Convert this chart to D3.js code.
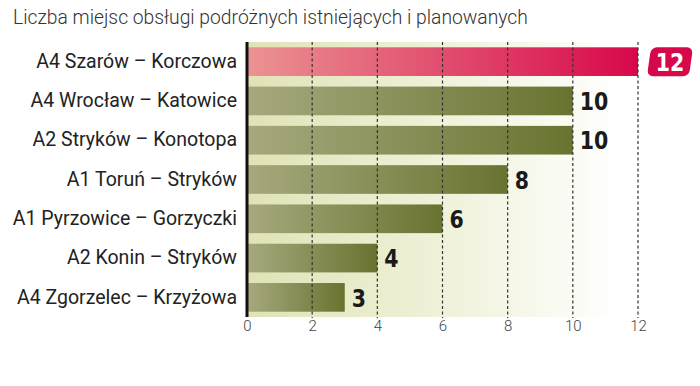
<!DOCTYPE html>
<html>
<head>
<meta charset="utf-8">
<script src="https://cdn.jsdelivr.net/npm/d3@7"></script>
<style>
  body { margin: 0; background: #fff; }
  svg { display: block; }
</style>
</head>
<body>
<div id="plot"></div>
<script>
// data
const routes = ["A4 Szarów – Korczowa", "A4 Wrocław – Katowice", "A2 Stryków – Konotopa",
      "A1 Toruń – Stryków", "A1 Pyrzowice – Gorzyczki", "A2 Konin – Stryków", "A4 Zgorzelec – Krzyżowa"];
const places = [12, 10, 10, 8, 6, 4, 3];
const ticks = [0, 2, 4, 6, 8, 10, 12];
const title = "Liczba miejsc obsługi podróżnych istniejących i planowanych";

const w = 700;
const h = 386;

const svg = d3.select("div#plot")
      .append("svg")
      .attr("width", w)
      .attr("height", h);

const xScale = d3.scaleLinear()
      .domain([0, 12])
      .range([247, 638]);

const yScale = d3.scaleBand()
      .domain(routes)
      .range([42, 317])
      .paddingInner(0.27)
      .paddingOuter(0.135);

const defs = svg.append("defs");

const bg = defs.append("linearGradient").attr("id", "bg");
bg.append("stop").attr("offset", "0%").attr("stop-color", "#e0e3b6");
bg.append("stop").attr("offset", "50%").attr("stop-color", "#eff1d8");
bg.append("stop").attr("offset", "100%").attr("stop-color", "#ffffff");

const green = defs.append("linearGradient").attr("id", "green");
green.append("stop").attr("offset", "0%").attr("stop-color", "#a7a97e");
green.append("stop").attr("offset", "100%").attr("stop-color", "#697330");

const red = defs.append("linearGradient").attr("id", "red");
red.append("stop").attr("offset", "0%").attr("stop-color", "#eb9393");
red.append("stop").attr("offset", "100%").attr("stop-color", "#d8084a");

// title
svg.append("text")
      .attr("x", 13)
      .attr("y", 24)
      .attr("font-family", "Roboto")
      .attr("font-weight", 300)
      .attr("font-size", 19.3)
      .attr("fill", "#333")
      .text(title);

// background band
svg.append("rect")
      .attr("x", xScale(0))
      .attr("y", 42)
      .attr("width", xScale(11.5) - xScale(0))
      .attr("height", 275)
      .attr("fill", "url(#bg)");

// bars
svg.selectAll(".bar")
      .data(places)
      .enter()
      .append("rect")
      .attr("class", "bar")
      .attr("x", xScale(0))
      .attr("y", (d, i) => yScale(routes[i]))
      .attr("width", d => xScale(d) - xScale(0))
      .attr("height", yScale.bandwidth())
      .attr("fill", (d, i) => i === 0 ? "url(#red)" : "url(#green)");

// dashed grid
svg.selectAll(".grid")
      .data(ticks.slice(1))
      .enter()
      .append("line")
      .attr("class", "grid")
      .attr("x1", d => xScale(d))
      .attr("x2", d => xScale(d))
      .attr("y1", 42)
      .attr("y2", 318)
      .attr("stroke", "#333")
      .attr("stroke-width", 1.2)
      .attr("stroke-dasharray", "3,2.5");

// x axis
const xAxis = d3.axisBottom(xScale)
      .tickValues(ticks)
      .tickSize(0)
      .tickPadding(0);

const gx = svg.append("g")
      .attr("transform", "translate(0, 320)")
      .call(xAxis);
gx.select(".domain").remove();
gx.selectAll("text")
      .attr("dy", "0.71em")
      .attr("font-family", "Roboto")
      .attr("font-weight", 300)
      .attr("font-size", 15)
      .attr("fill", "#444");

// y axis
const yAxis = d3.axisLeft(yScale)
      .tickSize(0)
      .tickPadding(10);

const gy = svg.append("g")
      .attr("transform", `translate(${xScale(0)}, 0)`)
      .call(yAxis);
gy.select(".domain")
      .attr("stroke", "#111")
      .attr("stroke-width", 3)
      .attr("d", "M0,42V317");
gy.selectAll("text")
      .attr("font-family", "Roboto")
      .attr("font-size", 19.5)
      .attr("fill", "#222");

// value labels (squeezed a bit to look condensed)
svg.selectAll(".val")
      .data(places.slice(1))
      .enter()
      .append("text")
      .attr("class", "val")
      .attr("transform", (d, i) => `translate(${xScale(d) + 7}, ${yScale(routes[i + 1]) + yScale.bandwidth() / 2}) scale(0.82, 1)`)
      .attr("dy", "0.37em")
      .attr("font-family", "DejaVu Sans")
      .attr("font-weight", "bold")
      .attr("font-size", 25)
      .attr("fill", "#1a1a1a")
      .text(d => d);

// highlighted label for the top bar
const topLabel = svg.append("g")
      .attr("transform", `translate(${xScale(places[0]) + 32}, ${yScale(routes[0]) + yScale.bandwidth() / 2})`);
topLabel.append("rect")
      .attr("x", -21)
      .attr("y", -14.5)
      .attr("width", 42)
      .attr("height", 29)
      .attr("rx", 6)
      .attr("transform", "skewX(-8)")
      .attr("fill", "#d6084a");
topLabel.append("text")
      .attr("text-anchor", "middle")
      .attr("transform", "scale(0.82, 1)")
      .attr("dy", "0.37em")
      .attr("font-family", "DejaVu Sans")
      .attr("font-weight", "bold")
      .attr("font-size", 25)
      .attr("fill", "#fff")
      .text(places[0]);
</script>
</body>
</html>
